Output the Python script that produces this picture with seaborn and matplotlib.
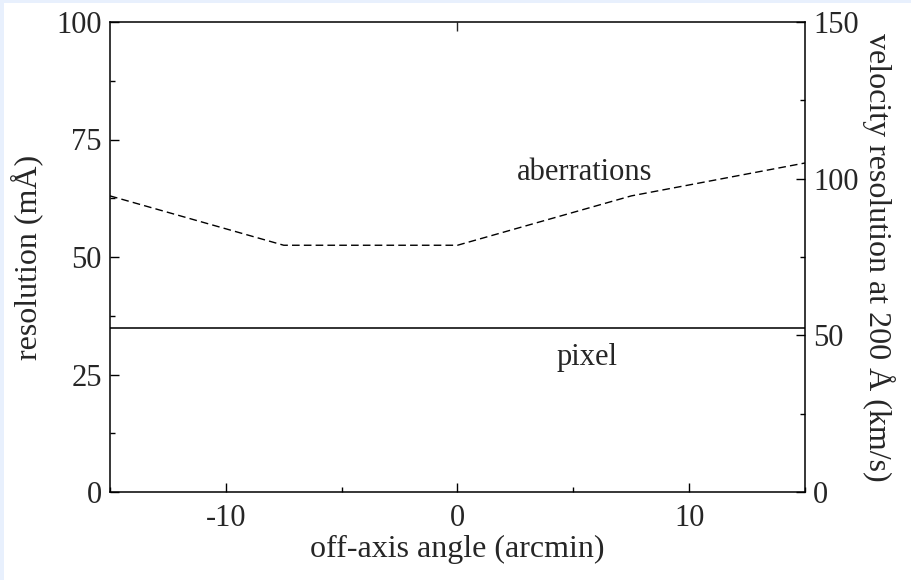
import matplotlib
matplotlib.use("Agg")
import matplotlib.pyplot as plt
from matplotlib.ticker import MultipleLocator
from matplotlib.patches import Rectangle
import seaborn as sns
import pandas as pd

# data
angle = [-15, -7.5, 0, 7.5, 15]
aberrations = [63, 52.5, 52.5, 63, 70]
pixel_angle = [-15, 15]
pixel = [35, 35]

sns.set_style("ticks")
plt.rcParams['font.family'] = ['Liberation Serif', 'DejaVu Serif']
plt.rcParams['axes.unicode_minus'] = False
FS = 22
LFS = 23

fig = plt.figure(figsize=(9.12, 5.8), dpi=100)
fig.patch.set_facecolor('#e8f0fd')
# white page with a thin blue border at top and left
fig.add_artist(Rectangle((4 / 912, 0), 1, 1 - 3 / 580, transform=fig.transFigure,
                         facecolor='white', edgecolor='none', zorder=-10))
ax = fig.add_axes([110 / 912, 1 - 492 / 580, 695 / 912, 470 / 580])
ax.set_facecolor('white')

df_ab = pd.DataFrame({'angle': angle, 'res': aberrations})
df_px = pd.DataFrame({'angle': pixel_angle, 'res': pixel})
sns.lineplot(data=df_ab, x='angle', y='res', ax=ax, color='k', lw=1.0,
             linestyle=(0, (5.5, 3.0)))
sns.lineplot(data=df_px, x='angle', y='res', ax=ax, color='#222222', lw=1.3)

ax.set_xlim(-15, 15)
ax.set_ylim(0, 100)
ax.xaxis.set_major_locator(MultipleLocator(10))
ax.xaxis.set_minor_locator(MultipleLocator(5))
ax.yaxis.set_major_locator(MultipleLocator(25))
ax.yaxis.set_minor_locator(MultipleLocator(12.5))
ax.tick_params(which='both', direction='in', labelsize=FS, color='k', width=1)
ax.tick_params(which='major', length=6.5, pad=6)
ax.tick_params(which='minor', length=3.6)
ax.tick_params(axis='x', which='major', pad=9)
ax.set_xlabel('off-axis angle (arcmin)', fontsize=LFS, labelpad=1)
ax.set_ylabel('resolution (mÅ)', fontsize=LFS, labelpad=9)
for s in ax.spines.values():
    s.set_color('k')
    s.set_linewidth(1.1)

top = ax.secondary_xaxis('top')
top.set_xticks([0])
top.tick_params(direction='in', length=6.5, labeltop=False, width=1)
top.spines['top'].set_visible(False)

ax2 = ax.twinx()
ax2.set_ylim(0, 150)
ax2.yaxis.set_major_locator(MultipleLocator(50))
ax2.yaxis.set_minor_locator(MultipleLocator(25))
ax2.tick_params(which='both', direction='in', labelsize=FS, color='k', width=1)
ax2.tick_params(which='major', length=6.5, pad=6)
ax2.tick_params(which='minor', length=3.6)
ax2.set_ylabel('velocity resolution at 200 Å (km/s)', fontsize=LFS, rotation=270,
               labelpad=26)
for s in ax2.spines.values():
    s.set_visible(False)

ax.text(5.5, 68, 'aberrations', fontsize=FS, ha='center', va='center')
ax.text(5.6, 28.7, 'pixel', fontsize=FS, ha='center', va='center')

fig.savefig('out.png', dpi=100, facecolor=fig.get_facecolor())
